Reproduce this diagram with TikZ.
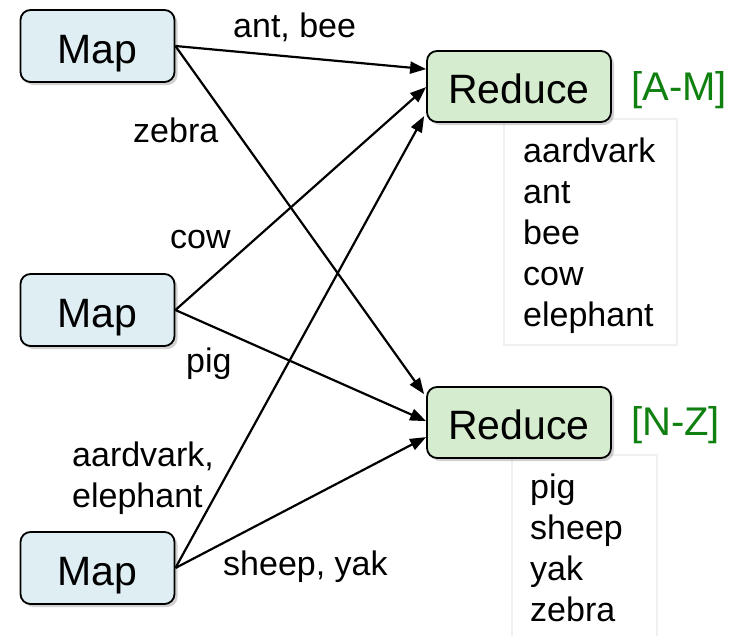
\documentclass[tikz,border=0pt]{standalone}
\usepackage{fontspec}
\setmainfont{Liberation Sans}
\usetikzlibrary{arrows.meta,shadows,calc}
\definecolor{mapfill}{RGB}{222,238,242}
\definecolor{redfill}{RGB}{214,236,206}
\definecolor{rangegreen}{RGB}{16,128,16}
\tikzset{
  box/.style={draw=black, line width=1.8pt, rounded corners=10pt,
    drop shadow={shadow xshift=3pt, shadow yshift=-3pt, opacity=0.3, fill=black!60},
    font=\fontsize{41}{41}\selectfont, text height=36pt, text depth=2pt, inner sep=0pt},
  mapbox/.style={box, fill=mapfill, minimum width=154pt, minimum height=72pt},
  redbox/.style={box, fill=redfill, minimum width=184pt, minimum height=71pt},
  lbl/.style={font=\fontsize{34}{41}\selectfont, anchor=base west, inner sep=0pt},
  rng/.style={font=\fontsize{40}{40}\selectfont, text=rangegreen, anchor=base west, inner sep=0pt},
  listbox/.style={draw=black!6, line width=1.2pt, inner sep=0pt},
  flow/.style={line width=2.2pt, -{Triangle[length=16pt,width=12pt]}}
}
\begin{document}
\begin{tikzpicture}[x=1pt,y=-1pt]
\useasboundingbox (0,0) rectangle (743,635);
% list boxes
\node[listbox, minimum width=173pt, minimum height=226pt] (amlist) at (590.5,232) {};
\node[listbox, minimum width=145pt, minimum height=184pt] (nzlist) at (584.5,547) {};
% boxes
\node[mapbox] (m1) at (97.5,46) {Map};
\node[mapbox] (m2) at (97.5,310) {Map};
\node[mapbox] (m3) at (97.5,568) {Map};
\node[redbox] (r1) at (519,86.5) {Reduce};
\node[redbox] (r2) at (519,422.5) {Reduce};
% ranges
\node[rng] (am) at (631,100) {[A-M]};
\node[rng] (nz) at (631,435) {[N-Z]};
% lists
\foreach \w [count=\i] in {aardvark,ant,bee,cow,elephant}
  \node[lbl] (am\i) at (523,{162+41*(\i-1)}) {\w};
\foreach \w [count=\i] in {pig,sheep,yak,zebra}
  \node[lbl] (nz\i) at (530,{498+41*(\i-1)}) {\w};
% connectors
\draw[flow] (m1.east) -- ($(r1.north west)+(0,19)$);
\draw[flow] (m1.east) -- ($(r2.north west)+(-2,8)$);
\draw[flow] (m2.east) -- ($(r1.north west)+(0,37)$);
\draw[flow] (m2.east) -- ($(r2.north west)+(0,35)$);
\draw[flow] (m3.east) -- ($(r1.north west)+(-2,66)$);
\draw[flow] (m3.east) -- ($(r2.north west)+(0,51)$);
% edge labels
\node[lbl] (lab1) at (233,37) {ant, bee};
\node[lbl] (lab2) at (133,142) {zebra};
\node[lbl] (lab3) at (170,248) {cow};
\node[lbl] (lab4) at (186,372) {pig};
\node[lbl] (lab5) at (72,466) {aardvark,};
\node[lbl] (lab6) at (72,507) {elephant};
\node[lbl] (lab7) at (223,575) {sheep, yak};
\end{tikzpicture}
\end{document}
